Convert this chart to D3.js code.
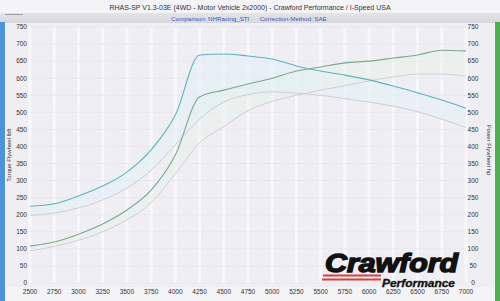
<!DOCTYPE html>
<html>
<head>
<meta charset="utf-8">
<script src="https://cdn.jsdelivr.net/npm/d3@7"></script>
<style>
  html, body { margin: 0; padding: 0; background: #f4f4f7; }
  svg { display: block; font-family: "Liberation Sans", Arial, sans-serif; }
</style>
</head>
<body>
<div id="chart"></div>
<script>
// rpm steps
const rpm = [2500, 2750, 3000, 3250, 3500, 3750, 4000, 4250, 4500, 4750,
             5000, 5250, 5500, 5750, 6000, 6250, 6500, 6750, 7000];

// current run
const torque = [225, 232, 255, 284, 325, 390, 492, 668, 671, 665,
                656, 636, 621, 609, 595, 577, 557, 536, 512];
const power = [108, 120, 143, 173, 214, 272, 375, 545, 565, 583,
               600, 621, 633, 645, 650, 659, 668, 682, 680];

// comparison run (NHRacing_STI)
const cmpTorque = [198, 205, 220, 243, 278, 330, 405, 480, 530, 552,
                   560, 556, 550, 540, 530, 518, 502, 480, 455];
const cmpPower = [94, 107, 125, 150, 185, 235, 320, 410, 458, 505,
                  532, 550, 565, 578, 592, 604, 612, 612, 606];

const xTicks = d3.range(2500, 7001, 250);
const yTicks = d3.range(0, 751, 50);

const title = "RHAS-SP V1.3-03E  (4WD - Motor Vehicle 2x2000) - Crawford Performance / I-Speed USA";
const subtitle = "Comparison: NHRacing_STI      Correction-Method: SAE";

const width = 500, height = 301;

let svg = d3.select('#chart').append('svg')
    .attr('width', width)
    .attr('height', height);

let x = d3.scaleLinear().domain([2500, 7000]).range([30, 466]);
let y = d3.scaleLinear().domain([0, 750]).range([283, 27]);

// page background + header band
svg.append('rect').attr('width', width).attr('height', height).attr('fill', '#f4f4f7');
let grad = svg.append('defs').append('linearGradient')
    .attr('id', 'band').attr('x1', 0).attr('x2', 0).attr('y1', 0).attr('y2', 1);
grad.append('stop').attr('offset', '0%').attr('stop-color', '#e4e4e8');
grad.append('stop').attr('offset', '100%').attr('stop-color', '#d6d6dc');
svg.append('rect').attr('x', 0).attr('y', 13).attr('width', width).attr('height', 10)
    .attr('fill', 'url(#band)');
svg.append('line').attr('x1', 5).attr('x2', 23).attr('y1', 14.5).attr('y2', 14.5)
    .attr('stroke', '#9a9aa4').attr('stroke-width', 1);

// plot area
svg.append('rect')
    .attr('x', 6).attr('y', 23)
    .attr('width', 488).attr('height', 264)
    .attr('fill', '#efeff3');

// grid
svg.append('g').selectAll('line.v')
    .data(xTicks)
    .enter().append('line')
    .attr('x1', d => x(d)).attr('x2', d => x(d))
    .attr('y1', y(750)).attr('y2', y(0))
    .attr('stroke', '#f8f8fb').attr('stroke-width', 3);
svg.append('g').selectAll('line.h')
    .data(yTicks)
    .enter().append('line')
    .attr('x1', x(2500)).attr('x2', x(7000))
    .attr('y1', d => y(d)).attr('y2', d => y(d))
    .attr('stroke', '#e8e8ed').attr('stroke-width', 1);

// difference shading between run and comparison
let rows = rpm.map((r, i) => ({ r, t: torque[i], p: power[i], ct: cmpTorque[i], cp: cmpPower[i] }));
let curve = d3.curveMonotoneX;
svg.append('path')
    .datum(rows)
    .attr('d', d3.area().curve(curve).x(d => x(d.r)).y0(d => y(d.ct)).y1(d => y(d.t)))
    .attr('fill', '#e2eff7').attr('opacity', 0.6);
svg.append('path')
    .datum(rows)
    .attr('d', d3.area().curve(curve).x(d => x(d.r)).y0(d => y(d.cp)).y1(d => y(d.p)))
    .attr('fill', '#e6f2ea').attr('opacity', 0.45);

function drawLine(values, color, w) {
    svg.append('path')
        .datum(rpm.map((r, i) => [r, values[i]]))
        .attr('d', d3.line().curve(curve).x(d => x(d[0])).y(d => y(d[1])))
        .attr('fill', 'none')
        .attr('stroke', color)
        .attr('stroke-width', w);
}
drawLine(cmpTorque, '#cdcfd7', 1);
drawLine(cmpPower, '#cfd0d5', 1);
drawLine(power, '#7aa890', 1.1);
drawLine(torque, '#5cb3be', 1.1);

// axes labels
let fs = 6.5;
svg.append('g').selectAll('text')
    .data(yTicks)
    .enter().append('text')
    .attr('x', 27).attr('y', d => y(d) + 2.3)
    .attr('text-anchor', 'end')
    .attr('font-size', fs).attr('fill', '#333')
    .text(d => d);
svg.append('g').selectAll('text')
    .data(yTicks)
    .enter().append('text')
    .attr('x', 473).attr('y', d => y(d) + 2.3)
    .attr('text-anchor', 'middle')
    .attr('font-size', fs).attr('fill', '#333')
    .text(d => d);
svg.append('g').selectAll('text')
    .data(xTicks)
    .enter().append('text')
    .attr('x', d => x(d)).attr('y', 294)
    .attr('text-anchor', 'middle')
    .attr('font-size', fs).attr('fill', '#333')
    .text(d => d);

svg.append('text')
    .attr('transform', 'translate(11,155) rotate(-90)')
    .attr('text-anchor', 'middle')
    .attr('font-size', 6).attr('fill', '#333')
    .text('Torque Flywheel lbft');
svg.append('text')
    .attr('transform', 'translate(487,150) rotate(90)')
    .attr('text-anchor', 'middle')
    .attr('font-size', 6).attr('fill', '#333')
    .text('Power Flywheel hp');

// titles
svg.append('text')
    .attr('x', 250).attr('y', 10)
    .attr('text-anchor', 'middle')
    .attr('font-size', 7).attr('fill', '#333')
    .text(title);
svg.append('text')
    .attr('x', 249).attr('y', 20.5)
    .attr('text-anchor', 'middle')
    .attr('font-size', 6.2).attr('fill', '#3a5bb0')
    .attr('xml:space', 'preserve')
    .style('white-space', 'pre')
    .text(subtitle);

// side bars
svg.append('rect').attr('x', 0).attr('y', 22).attr('width', 5).attr('height', 279).attr('fill', '#4b93dc');
svg.append('rect').attr('x', 495).attr('y', 22).attr('width', 5).attr('height', 279).attr('fill', '#4cb050');

// logo
let logo = svg.append('g');
logo.append('text')
    .attr('x', 325).attr('y', 272)
    .attr('font-size', 25).attr('font-weight', 'bold').attr('font-style', 'italic')
    .attr('textLength', 133).attr('lengthAdjust', 'spacingAndGlyphs')
    .attr('fill', '#111').attr('stroke', '#111').attr('stroke-width', 1.4)
    .text('Crawford');
logo.append('rect').attr('x', 323).attr('y', 274.5).attr('width', 58).attr('height', 2).attr('fill', '#d9403a');
logo.append('rect').attr('x', 322).attr('y', 278.5).attr('width', 59).attr('height', 2).attr('fill', '#d9403a');
logo.append('text')
    .attr('x', 382).attr('y', 287)
    .attr('font-size', 10).attr('font-weight', 'bold').attr('font-style', 'italic')
    .attr('textLength', 73).attr('lengthAdjust', 'spacingAndGlyphs')
    .attr('fill', '#111').attr('stroke', '#111').attr('stroke-width', 0.3)
    .text('Performance');
</script>
</body>
</html>
